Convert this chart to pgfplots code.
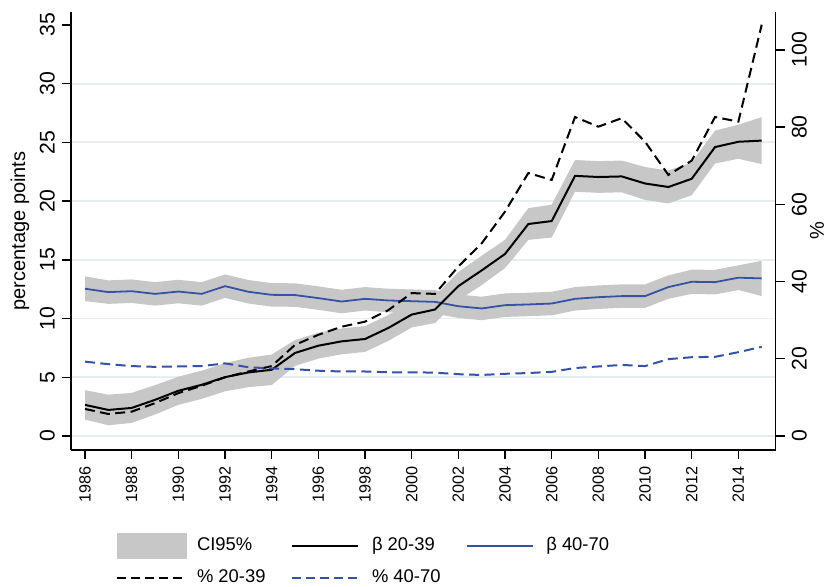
\documentclass[border=0pt]{standalone}
\usepackage{fontspec}
\setmainfont{Liberation Sans}
\usepackage{pgfplots}
\pgfplotsset{compat=1.18}
\usepackage{pgfplotstable}
\usepgfplotslibrary{fillbetween}

\definecolor{cigray}{RGB}{199,199,199}
\definecolor{sblue}{RGB}{55,82,165}
\definecolor{gridc}{RGB}{230,239,239}

\pgfplotstableread{
year b2039 b2039lo b2039hi b4070 b4070lo b4070hi p2039 p4070
1986 2.65 1.40 3.90 12.54 11.49 13.59 7.0 19.25
1987 2.22 0.92 3.52 12.25 11.25 13.25 5.7 18.6
1988 2.39 1.11 3.67 12.33 11.33 13.33 6.3 18.1
1989 3.08 1.83 4.33 12.10 11.10 13.10 8.5 17.9
1990 3.85 2.65 5.05 12.30 11.30 13.30 11.1 18.0
1991 4.36 3.16 5.56 12.10 11.10 13.10 13.0 18.1
1992 5.01 3.81 6.21 12.76 11.76 13.76 15.2 18.8
1993 5.41 4.16 6.66 12.28 11.28 13.28 16.7 17.8
1994 5.64 4.34 6.94 12.02 11.02 13.02 18.1 17.5
1995 7.07 5.97 8.17 12.00 11.00 13.00 23.6 17.3
1996 7.69 6.59 8.79 11.74 10.74 12.74 26.2 16.9
1997 8.06 6.96 9.16 11.45 10.45 12.45 28.3 16.7
1998 8.26 7.16 9.36 11.68 10.68 12.68 29.6 16.7
1999 9.20 8.10 10.30 11.54 10.54 12.54 32.6 16.5
2000 10.34 9.24 11.44 11.48 10.48 12.48 37.0 16.5
2001 10.77 9.62 11.92 11.42 10.42 12.42 36.8 16.4
2002 12.76 11.56 13.96 11.05 10.05 12.05 43.9 16.0
2003 14.10 12.85 15.35 10.86 9.86 11.86 49.9 15.8
2004 15.50 14.30 16.70 11.14 10.14 12.14 58.1 16.1
2005 18.05 16.70 19.40 11.20 10.20 12.20 68.1 16.3
2006 18.30 16.90 19.70 11.28 10.28 12.28 66.3 16.6
2007 22.15 20.80 23.50 11.68 10.68 12.68 82.6 17.6
2008 22.05 20.70 23.40 11.82 10.82 12.82 80.1 18.0
2009 22.10 20.75 23.45 11.91 10.91 12.91 82.3 18.4
2010 21.50 20.10 22.90 11.91 10.91 12.91 76.2 18.1
2011 21.20 19.80 22.60 12.68 11.68 13.68 67.6 19.9
2012 21.90 20.50 23.30 13.13 12.10 14.16 71.3 20.4
2013 24.60 23.20 26.00 13.10 12.05 14.15 82.6 20.5
2014 25.05 23.60 26.50 13.48 12.43 14.53 81.4 21.7
2015 25.15 23.15 27.15 13.42 11.92 14.92 106.5 23.1
}\data

\pgfplotsset{
  common/.style={
    at={(0pt,0pt)}, anchor=south west,
    scale only axis, width=352.35pt, height=219pt,
    xmin=1985.4, xmax=2015.6,
    tick align=outside, major tick length=4.5pt,
    axis line style={-, line width=0.7pt},
    tick style={line width=0.7pt, black},
    /pgf/number format/assume math mode=true,
    /pgf/number format/set thousands separator={},
    label style={font=\fontsize{10.75}{12}\selectfont},
  },
}

\begin{document}
\begin{tikzpicture}
\begin{axis}[common,
  ymin=-1.19, ymax=36.1,
  axis x line*=bottom, axis y line*=left,
  xtick={1986,1988,...,2014},
  ytick={0,5,...,35},
  xticklabel style={rotate=90, anchor=east, font=\fontsize{8.1}{9}\selectfont},
  yticklabel style={rotate=90, anchor=south, font=\fontsize{10.6}{12}\selectfont},
  extra y ticks={0,5,...,30}, extra y tick labels={},
  extra y tick style={grid=major, major grid style={gridc, line width=0.9pt}, major tick length=0pt},
  ylabel={percentage points},
  every axis y label/.style={at={(axis description cs:-0.0724,0.5)}, rotate=90, anchor=center},
  legend columns=3, legend cell align=left,
  legend style={at={(0.0639,-0.1895)}, anchor=north west, draw=none, fill=none,
    inner sep=0pt, outer sep=0pt, font=\fontsize{9.2}{11}\selectfont,
    column sep=0pt, row sep=5pt,
    nodes={inner sep=0pt, text height=7pt, text depth=2pt},
    /tikz/every odd column/.append style={column sep=5pt}},
]
\addplot[name path=bu, draw=none, forget plot] table[x=year, y=b4070hi]{\data};
\addplot[name path=bl, draw=none, forget plot] table[x=year, y=b4070lo]{\data};
\addplot[fill=cigray, draw=none, forget plot] fill between[of=bu and bl];
\addplot[name path=ku, draw=none, forget plot] table[x=year, y=b2039hi]{\data};
\addplot[name path=kl, draw=none, forget plot] table[x=year, y=b2039lo]{\data};
\addplot[fill=cigray, draw=none, forget plot] fill between[of=ku and kl];
\addplot[sblue, line width=0.9pt, forget plot] table[x=year, y=b4070]{\data};
\addplot[black, line width=1pt, forget plot] table[x=year, y=b2039]{\data};

\addlegendimage{legend image code/.code={\fill[cigray] (0pt,-6.25pt) rectangle (34.5pt,6.25pt);}}
\addlegendentry{\makebox[47pt][l]{CI95\%}}
\addlegendimage{legend image code/.code={\draw[black, line width=1pt] (0pt,0pt) -- (33pt,0pt); \path (34.5pt,0pt);}}
\addlegendentry{\makebox[47pt][l]{β 20-39}}
\addlegendimage{legend image code/.code={\draw[sblue, line width=0.9pt] (0pt,0pt) -- (33pt,0pt); \path (34.5pt,0pt);}}
\addlegendentry{β 40-70}
\addlegendimage{legend image code/.code={\draw[black, line width=1pt, dash pattern=on 4.5pt off 2.5pt] (0pt,0pt) -- (34.5pt,0pt);}}
\addlegendentry{\makebox[47pt][l]{\% 20-39}}
\addlegendimage{legend image code/.code={\draw[sblue, line width=1pt, dash pattern=on 4.5pt off 2.5pt] (0pt,0pt) -- (34.5pt,0pt);}}
\addlegendentry{\% 40-70}
\end{axis}

\begin{axis}[common,
  ymin=-3.63, ymax=109.8,
  axis x line=none, axis y line*=right,
  ytick={0,20,...,100},
  yticklabel style={rotate=90, anchor=north, font=\fontsize{10.6}{12}\selectfont},
  ylabel={\%},
  every axis y label/.style={at={(axis description cs:1.0586,0.5)}, rotate=90, anchor=center},
]
\addplot[black, line width=1pt, dash pattern=on 5pt off 2.7pt] table[x=year, y=p2039]{\data};
\addplot[sblue, line width=1pt, dash pattern=on 5pt off 2.7pt] table[x=year, y=p4070]{\data};
\end{axis}
\pgfresetboundingbox
\path[use as bounding box] (-35.5pt,-68.5pt) rectangle (378.5pt,225pt);
\end{tikzpicture}
\end{document}
